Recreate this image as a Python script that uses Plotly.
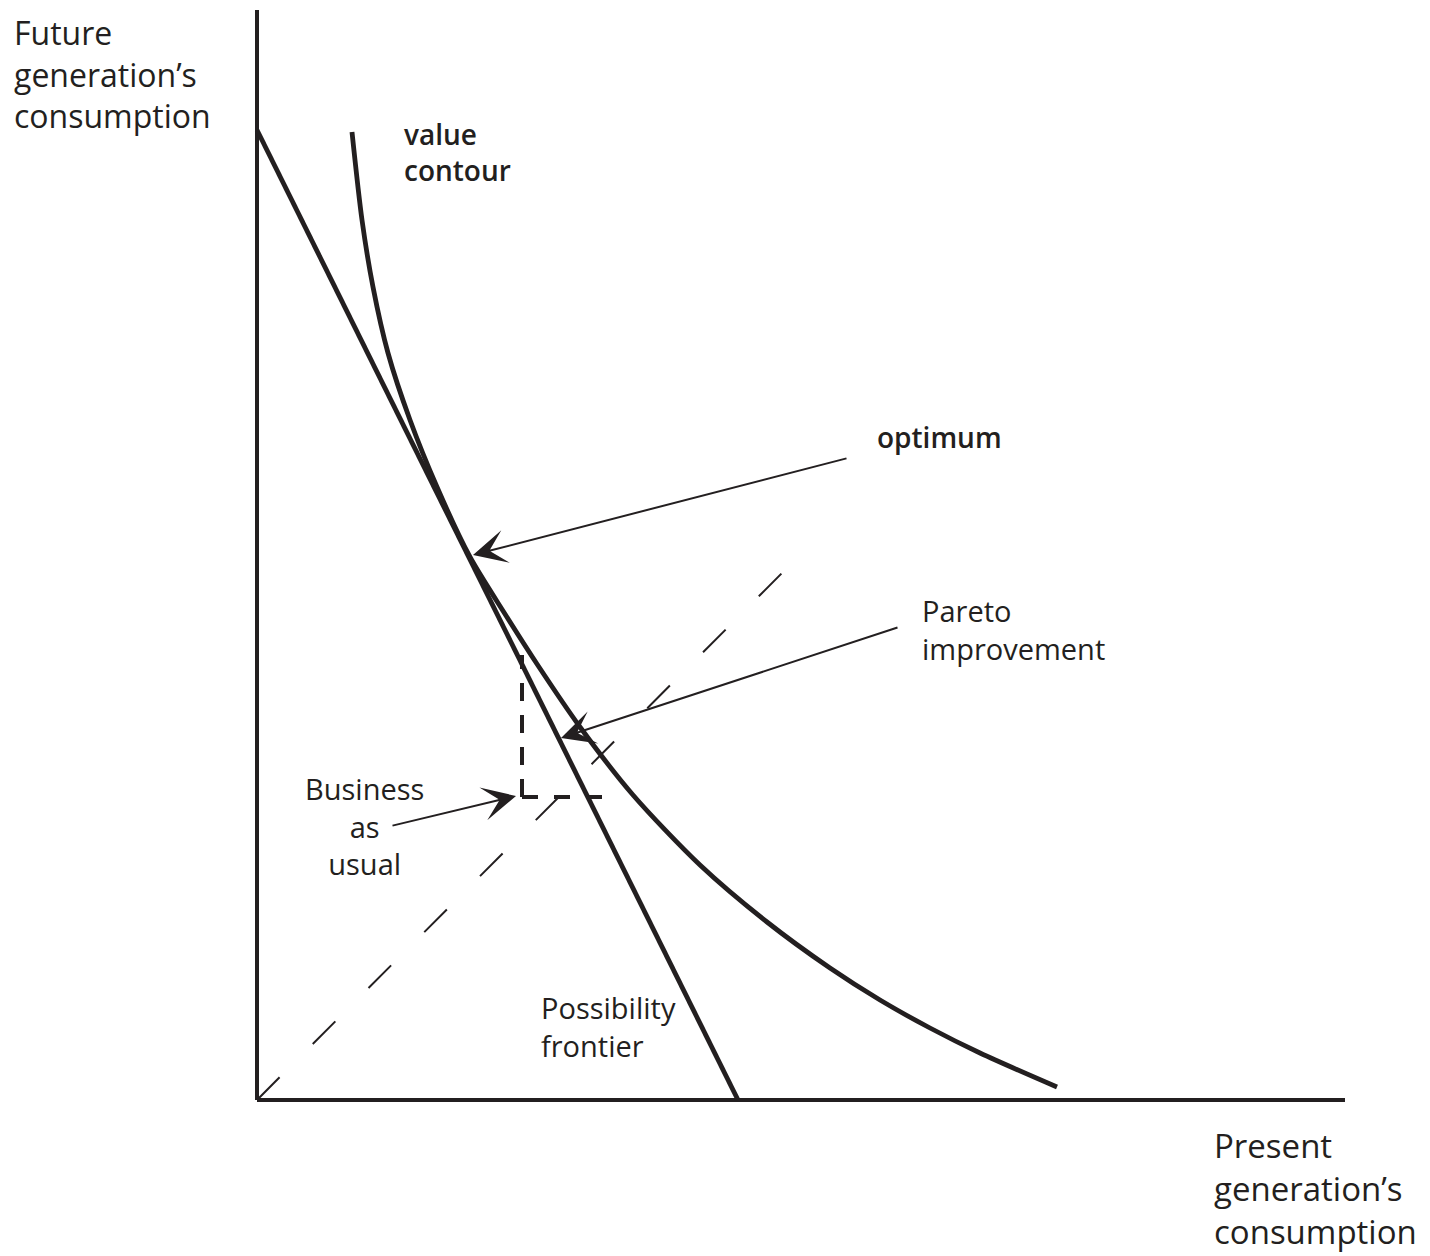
import plotly.graph_objects as go

INK = "#231f20"
FONT = "Open Sans"

# ---- data (abstract units: present consumption x, future consumption y) ----
frontier_x = [0.0, 4.81]
frontier_y = [9.70, 0.0]

contour_x = [0.95, 1.05, 1.16, 1.31, 1.53, 1.80, 2.13, 2.48, 2.80, 3.23,
             3.76, 4.43, 5.10, 5.73, 6.23, 6.73, 7.23, 8.00]
contour_y = [9.68, 8.80, 8.13, 7.47, 6.80, 6.13, 5.43, 4.86, 4.36, 3.73,
             3.05, 2.35, 1.78, 1.32, 1.00, 0.72, 0.47, 0.13]

diag_x = [0.0, 5.30]
diag_y = [0.0, 5.32]

bau_x = 2.65
bau_y = 3.03
bau_top_y = 4.45
bau_right_x = 3.45

axis_x_max = 10.88
axis_y_max = 10.90

# arrows: (tail_x, tail_y, head_x, head_y)
arrow_optimum = (5.91, 6.42, 2.16, 5.45)
arrow_pareto = (6.42, 4.73, 3.04, 3.62)
arrow_bau = (1.34, 2.74, 2.59, 3.04)

y_title_lines = ["Future", "generation’s", "consumption"]
x_title_lines = ["Present", "generation’s", "consumption"]

fig = go.Figure()

def line(x, y, width, dash="solid", shape="linear"):
    fig.add_trace(go.Scatter(x=x, y=y, mode="lines",
                             line=dict(color=INK, width=width, dash=dash, shape=shape,
                                       smoothing=0.8 if shape == "spline" else None),
                             hoverinfo="skip", showlegend=False))

# axes
line([0, 0], [0, axis_y_max], 4)
line([0, axis_x_max], [0, 0], 4)
# 45-degree dashed line
line(diag_x, diag_y, 2, dash="32px,47px")
# possibility frontier
line(frontier_x, frontier_y, 4.8)
# value contour
line(contour_x, contour_y, 4.8, shape="spline")
# business as usual dashed corner
line([bau_x, bau_x], [bau_y, bau_top_y], 4, dash="18px,14px")
line([bau_x, bau_right_x], [bau_y, bau_y], 4, dash="16px,16px")

for tx, ty, hx, hy in (arrow_optimum, arrow_pareto, arrow_bau):
    fig.add_annotation(x=hx, y=hy, ax=tx, ay=ty, xref="x", yref="y",
                       axref="x", ayref="y", text="", showarrow=True,
                       arrowhead=3, arrowsize=2.8, arrowwidth=2,
                       arrowcolor=INK, standoff=0)

def label(text, x, y, xanchor="left", yanchor="middle", bold=False, size=29,
          align="left", ref="x"):
    fig.add_annotation(x=x, y=y, xref=ref, yref="y" if ref == "x" else "paper",
                       text=text, showarrow=False,
                       xanchor=xanchor, yanchor=yanchor, align=align,
                       font=dict(family=FONT, size=size, color=INK,
                                 weight=600 if bold else 400))

# axis titles
label("<br>".join(y_title_lines), -0.2140, 1.0009, yanchor="top", size=32, ref="paper")
label("<br>".join(x_title_lines), 0.8790, -0.0100, yanchor="top", size=33, ref="paper")

label("value<br>contour", 1.45, 9.48, bold=True, size=28)
label("optimum", 6.18, 6.63, bold=True, size=28)
label("Pareto<br>improvement", 6.63, 4.71)
label("Business<br>as<br>usual", 1.07, 2.74, xanchor="center", align="center")
label("Possibility<br>frontier", 2.82, 0.74)

fig.update_layout(
    width=1422, height=1248,
    margin=dict(l=239, r=85, t=2, b=146),
    paper_bgcolor="white", plot_bgcolor="white",
    xaxis=dict(range=[-0.1, 10.88], visible=False, fixedrange=True),
    yaxis=dict(range=[-0.1, 10.90], visible=False, fixedrange=True),
    showlegend=False,
)

fig.write_html("out.html")
